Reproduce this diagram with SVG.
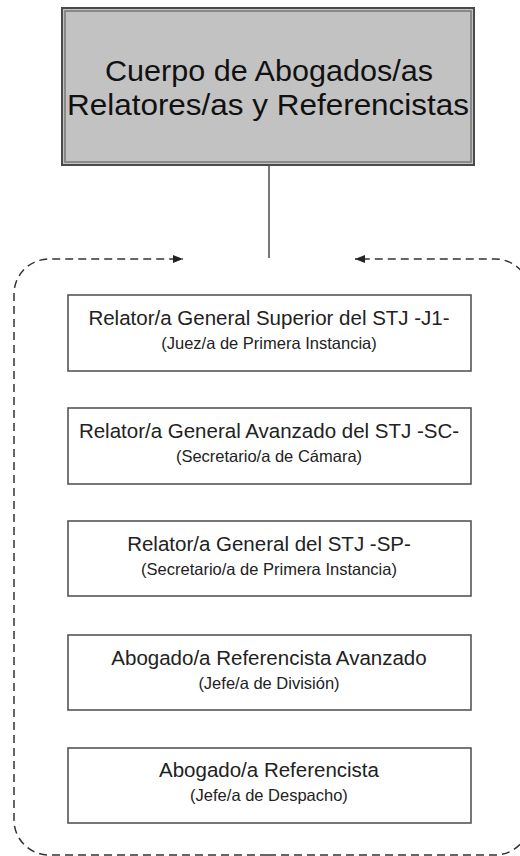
<svg xmlns="http://www.w3.org/2000/svg" width="520" height="856" viewBox="0 0 520 856">
<defs>
<marker id="arr" viewBox="0 0 10 8" refX="10" refY="4" markerWidth="10" markerHeight="8" markerUnits="userSpaceOnUse" orient="auto">
<path d="M0,0 L10,4 L0,8 Z" fill="#222"/>
</marker>
<style>
.box{fill:#fff;stroke:#555;stroke-width:1.6}
.t1{font-family:"Liberation Sans",Arial,sans-serif;font-size:20.5px;fill:#222;text-anchor:middle}
.t2{font-family:"Liberation Sans",Arial,sans-serif;font-size:16.5px;fill:#222;text-anchor:middle}
.title{font-family:"Liberation Sans",Arial,sans-serif;font-size:29px;fill:#111;text-anchor:middle}
.dash{fill:none;stroke:#333;stroke-width:1.5;stroke-dasharray:8 5}
</style>
</defs>
<g id="connectors">
<line x1="269" y1="166" x2="269" y2="258" stroke="#777" stroke-width="2"/>
<path class="dash" d="M268,855 H49 A35,35 0 0 1 14,820 V294 A35,35 0 0 1 49,259 H183" marker-end="url(#arr)"/>
<path class="dash" d="M268,855 H495 A35,35 0 0 0 530,820 V294 A35,35 0 0 0 495,259 H355" marker-end="url(#arr)"/>
</g>
<g id="cuerpo">
<rect x="62" y="8" width="412" height="157" fill="#c2c2c2" stroke="#4a4a4a" stroke-width="2"/>
<rect x="65" y="11" width="406" height="151" fill="none" stroke="#777" stroke-width="1.5"/>
<text class="title" x="269" y="81" textLength="328" lengthAdjust="spacingAndGlyphs">Cuerpo de Abogados/as</text>
<text class="title" x="268" y="115" textLength="402" lengthAdjust="spacingAndGlyphs">Relatores/as y Referencistas</text>
</g>
<g id="n1">
<rect class="box" x="68" y="295" width="403" height="76"/>
<text class="t1" x="269" y="325">Relator/a General Superior del STJ -J1-</text>
<text class="t2" x="269" y="349">(Juez/a de Primera Instancia)</text>
</g>
<g id="n2">
<rect class="box" x="68" y="408" width="403" height="76"/>
<text class="t1" x="269" y="438">Relator/a General Avanzado del STJ -SC-</text>
<text class="t2" x="269" y="462">(Secretario/a de Cámara)</text>
</g>
<g id="n3">
<rect class="box" x="68" y="521" width="403" height="75"/>
<text class="t1" x="269" y="551">Relator/a General del STJ -SP-</text>
<text class="t2" x="269" y="575">(Secretario/a de Primera Instancia)</text>
</g>
<g id="n4">
<rect class="box" x="68" y="635" width="403" height="75"/>
<text class="t1" x="269" y="665">Abogado/a Referencista Avanzado</text>
<text class="t2" x="269" y="689">(Jefe/a de División)</text>
</g>
<g id="n5">
<rect class="box" x="68" y="748" width="403" height="75"/>
<text class="t1" x="269" y="777">Abogado/a Referencista</text>
<text class="t2" x="269" y="801">(Jefe/a de Despacho)</text>
</g>
</svg>
